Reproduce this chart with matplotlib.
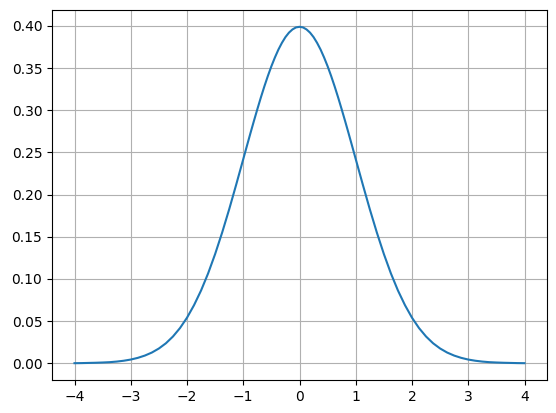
import matplotlib
matplotlib.use("Agg")
import matplotlib.pyplot as plt

# values (denser near the peak)
x = [-4.0, -3.875, -3.75, -3.625, -3.5, -3.375, -3.25, -3.125,
     -3.0, -2.875, -2.75, -2.625, -2.5, -2.375, -2.25, -2.125,
     -2.0, -1.875, -1.75, -1.625, -1.5, -1.375, -1.25, -1.125,
     -1.0, -0.9375, -0.875, -0.8125, -0.75, -0.6875, -0.625, -0.5625,
     -0.5, -0.4375, -0.375, -0.3125, -0.25, -0.1875, -0.125, -0.0625,
     0.0,
     0.0625, 0.125, 0.1875, 0.25, 0.3125, 0.375, 0.4375, 0.5,
     0.5625, 0.625, 0.6875, 0.75, 0.8125, 0.875, 0.9375, 1.0,
     1.125, 1.25, 1.375, 1.5, 1.625, 1.75, 1.875, 2.0,
     2.125, 2.25, 2.375, 2.5, 2.625, 2.75, 2.875, 3.0,
     3.125, 3.25, 3.375, 3.5, 3.625, 3.75, 3.875, 4.0]
y = [0.0001, 0.0002, 0.0004, 0.0006, 0.0009, 0.0013, 0.0020, 0.0030,
     0.0044, 0.0064, 0.0091, 0.0127, 0.0175, 0.0237, 0.0317, 0.0417,
     0.0540, 0.0689, 0.0863, 0.1065, 0.1295, 0.1550, 0.1826, 0.2119,
     0.2420, 0.2571, 0.2721, 0.2868, 0.3011, 0.3150, 0.3282, 0.3406,
     0.3521, 0.3625, 0.3719, 0.3799, 0.3867, 0.3920, 0.3958, 0.3982,
     0.3989,
     0.3982, 0.3958, 0.3920, 0.3867, 0.3799, 0.3719, 0.3625, 0.3521,
     0.3406, 0.3282, 0.3150, 0.3011, 0.2868, 0.2721, 0.2571, 0.2420,
     0.2119, 0.1826, 0.1550, 0.1295, 0.1065, 0.0863, 0.0689, 0.0540,
     0.0417, 0.0317, 0.0237, 0.0175, 0.0127, 0.0091, 0.0064, 0.0044,
     0.0030, 0.0020, 0.0013, 0.0009, 0.0006, 0.0004, 0.0002, 0.0001]

fig = plt.figure(figsize=(5.56, 4.13), dpi=100)
fig.subplots_adjust(left=52/556, right=547/556, top=1-10/413, bottom=1-380/413)
ax = fig.add_subplot(111)
ax.plot(x, y)
ax.grid(True)
fig.savefig("out.png", dpi=100)
